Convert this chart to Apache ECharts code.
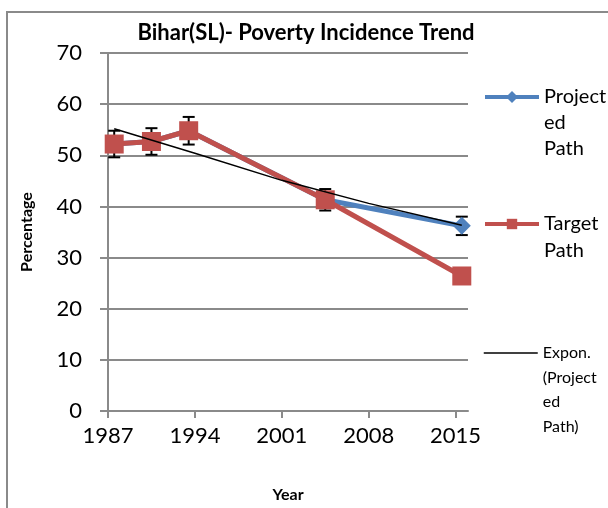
<!DOCTYPE html>
<html>
<head>
<meta charset="utf-8">
<script src="https://cdn.jsdelivr.net/npm/echarts@6/dist/echarts.min.js"></script>
<style>
  html, body { margin: 0; padding: 0; background: #fff; }
  #chart { width: 608px; height: 508px; }
</style>
</head>
<body>
<div id="chart"></div>
<script>
// survey years (mid-points) and poverty incidence, %
const years = [1987.5, 1990.5, 1993.5, 2004.5, 2015.5]
const projected = [52.2, 52.7, 54.8, 41.3, 36.2]
const target = [52.2, 52.7, 54.8, 41.3, 26.4]
// error bar half-heights on the projected path
const projectedErr = [2.6, 2.6, 2.7, 2.1, 1.8]
// exponential trendline
const trendYears = [1987.5, 1994, 2001, 2008, 2015.5]
const trendValues = [55.2, 50.4, 45.1, 40.6, 36.3]
const xTicks = [1987, 1994, 2001, 2008, 2015]

const FONT = 'Lato'
const GRID = '#8a8a8a'

const pairs = (xs, ys) => xs.map((x, i) => [x, ys[i]])
const errData = years.map((x, i) => [x, projected[i] - projectedErr[i], projected[i] + projectedErr[i]])

// legend with wrapped text; blank lines on top keep the first line level with the icon
function legendBox(name, lines, iconY, lineHeight, fontSize, itemHeight, lineWidth, hideSymbol) {
  const n = lines.length
  const pad = new Array(n - 1).fill(' ')
  const box = {
    data: [name],
    left: 483,
    top: iconY - (2 * n - 1) * lineHeight / 2,
    padding: 0,
    itemWidth: 54,
    itemHeight: itemHeight,
    itemGap: 0,
    selectedMode: false,
    lineStyle: { width: lineWidth },
    formatter: () => pad.concat(lines).join('\n'),
    textStyle: {
      fontFamily: FONT,
      fontSize: fontSize,
      color: '#000',
      lineHeight: lineHeight
    }
  }
  if (hideSymbol) box.itemStyle = { color: 'rgba(0,0,0,0)', borderWidth: 0 }
  return box
}

const chart = echarts.init(document.getElementById('chart'))
chart.setOption({
  animation: false,
  title: {
    text: 'Bihar(SL)- Poverty Incidence Trend',
    left: 301,
    top: 17,
    textAlign: 'center',
    textStyle: { fontFamily: FONT, fontSize: 22, fontWeight: 'bold', color: '#000' }
  },
  graphic: [
    {
      type: 'rect',
      shape: { x: 7, y: 12, width: 700, height: 600 },
      style: { fill: 'none', stroke: '#8a8a8a', lineWidth: 2 },
      silent: true
    }
  ],
  legend: [
    legendBox('Projected Path', ['Project', 'ed', 'Path'], 97, 26, 20, 15, 4, false),
    legendBox('Target Path', ['Target', 'Path'], 224, 27, 20, 13, 4, false),
    legendBox('Expon. (Projected Path)', ['Expon.', '(Project', 'ed', 'Path)'], 353, 24.5, 16, 10, 1.5, true)
  ],
  grid: { left: 108, top: 53, right: 140, bottom: 95 },
  xAxis: {
    type: 'value',
    min: 1987,
    max: 2016,
    name: 'Year',
    nameLocation: 'middle',
    nameGap: 76,
    nameTextStyle: { fontFamily: FONT, fontSize: 16, fontWeight: 'bold', color: '#000' },
    axisLine: { show: true, lineStyle: { color: GRID, width: 2 } },
    axisTick: { show: true, length: 7, customValues: xTicks, lineStyle: { color: GRID, width: 2 } },
    axisLabel: {
      customValues: xTicks,
      margin: 14,
      fontFamily: FONT,
      fontSize: 22,
      color: '#000',
      formatter: (v) => String(v)
    },
    splitLine: { show: false }
  },
  yAxis: {
    type: 'value',
    min: 0,
    max: 70,
    interval: 10,
    name: 'Percentage',
    nameLocation: 'middle',
    nameGap: 73,
    nameTextStyle: { fontFamily: FONT, fontSize: 16, fontWeight: 'bold', color: '#000' },
    axisLine: { show: true, lineStyle: { color: GRID, width: 2 } },
    axisTick: { show: true, length: 8, lineStyle: { color: GRID, width: 2 } },
    axisLabel: { margin: 26, fontFamily: FONT, fontSize: 22, color: '#000' },
    splitLine: { show: true, lineStyle: { color: GRID, width: 2 } }
  },
  series: [
    {
      name: 'Projected Path',
      type: 'line',
      data: pairs(years, projected),
      symbol: 'diamond',
      symbolSize: 18,
      color: '#4f81bd',
      lineStyle: { width: 5, color: '#4f81bd' },
      z: 2
    },
    {
      name: 'err',
      type: 'custom',
      data: errData,
      z: 2,
      renderItem(params, api) {
        const x = api.value(0)
        const top = api.coord([x, api.value(2)])
        const bot = api.coord([x, api.value(1)])
        const hw = 6
        const st = { stroke: '#000', lineWidth: 2 }
        return {
          type: 'group',
          children: [
            { type: 'line', shape: { x1: top[0], y1: top[1], x2: bot[0], y2: bot[1] }, style: st },
            { type: 'line', shape: { x1: top[0] - hw, y1: top[1], x2: top[0] + hw, y2: top[1] }, style: st },
            { type: 'line', shape: { x1: bot[0] - hw, y1: bot[1], x2: bot[0] + hw, y2: bot[1] }, style: st }
          ]
        }
      }
    },
    {
      name: 'Target Path',
      type: 'line',
      data: pairs(years, target),
      symbol: 'rect',
      symbolSize: 19,
      color: '#c0504d',
      lineStyle: { width: 5, color: '#c0504d' },
      z: 3
    },
    {
      name: 'Expon. (Projected Path)',
      type: 'line',
      data: pairs(trendYears, trendValues),
      symbol: 'none',
      color: '#000',
      lineStyle: { width: 1.5, color: '#000' },
      z: 4
    }
  ]
})
</script>
</body>
</html>
